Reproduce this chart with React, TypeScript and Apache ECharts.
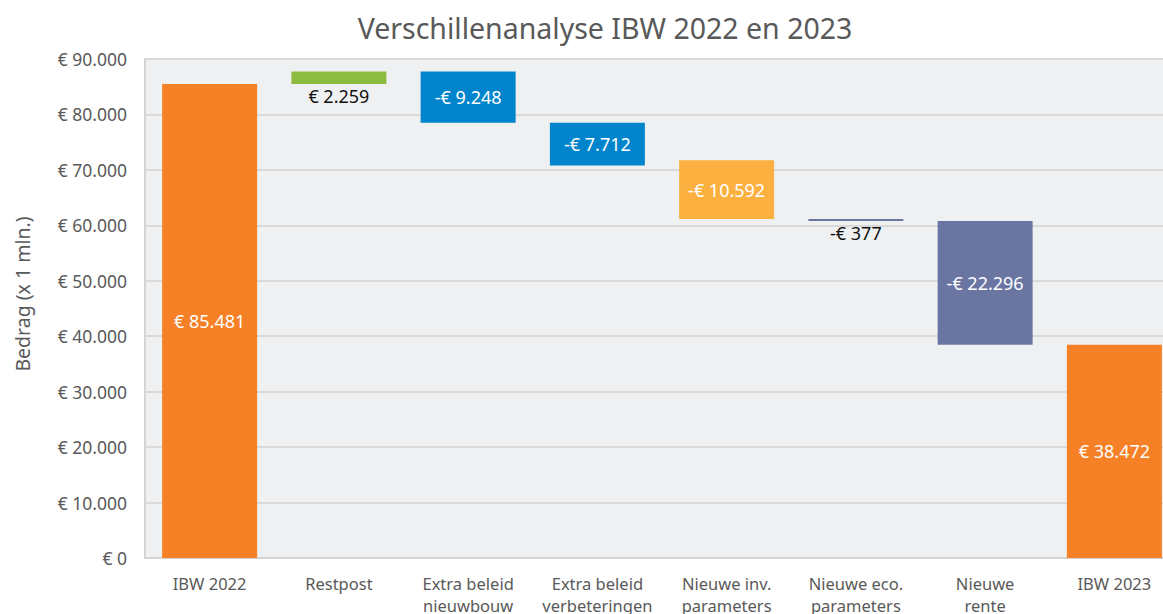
import React, { useEffect, useRef } from "react";
import * as echarts from "echarts";

const categories = [
  "IBW 2022",
  "Restpost",
  "Extra beleid\nnieuwbouw",
  "Extra beleid\nverbeteringen",
  "Nieuwe inv.\nparameters",
  "Nieuwe eco.\nparameters",
  "Nieuwe\nrente",
  "IBW 2023",
];
// signed amounts shown in the labels
const changes = [85481, 2259, -9248, -7712, -10592, -377, -22296, 38472];
// top of each floating bar as drawn in the chart
const barTops = [85481, 87740, 87740, 78492, 71737, 61145, 60768, 38472];
const barColors = ["#F58025", "#8CBB3F", "#0084CC", "#0084CC", "#FBB040", "#6A75A2", "#6A75A2", "#F58025"];
const labelOutside = [false, true, false, false, false, true, false, false];
const yTicks = [0, 10000, 20000, 30000, 40000, 50000, 60000, 70000, 80000, 90000];

const FONT = "'Noto Sans', 'Open Sans', sans-serif";

function fmt(v: number): string {
  const abs = Math.abs(v);
  const s = abs.toString().replace(/\B(?=(\d{3})+(?!\d))/g, ".");
  return (v < 0 ? "-" : "") + "€ " + s;
}

export default function App() {
  const ref = useRef<HTMLDivElement>(null);
  useEffect(() => {
    document.body.style.margin = "0";
    const chart = echarts.init(ref.current!, null, { renderer: "svg" });
    const heights = changes.map((c) => Math.abs(c));
    const bases = barTops.map((t, i) => t - heights[i]);
    chart.setOption({
      animation: false,
      backgroundColor: "#ffffff",
      title: {
        text: "Verschillenanalyse IBW 2022 en 2023",
        left: 600,
        textAlign: "center",
        top: 8,
        textStyle: { fontFamily: FONT, fontSize: 28.5, fontWeight: "normal", color: "#595959" },
      },
      graphic: [
        {
          type: "text",
          x: 22,
          y: 294,
          rotation: Math.PI / 2,
          style: {
            text: "Bedrag (x 1 mln.)",
            fontFamily: FONT,
            fontSize: 19.5,
            fill: "#595959",
            align: "center",
            verticalAlign: "middle",
          },
        },
      ],
      grid: {
        left: 145,
        top: 59,
        width: 1034,
        height: 499,
        show: true,
        backgroundColor: "#EFF0F2",
        borderWidth: 0,
        containLabel: false,
        outerBoundsMode: "none",
      },
      xAxis: {
        type: "category",
        data: categories,
        axisLine: { show: true, lineStyle: { color: "#D4D4D4", width: 2 } },
        axisTick: { show: false },
        axisLabel: {
          fontFamily: FONT,
          fontSize: 16.5,
          color: "#595959",
          margin: 14,
          lineHeight: 22,
          interval: 0,
        },
      },
      yAxis: {
        type: "value",
        min: yTicks[0],
        max: yTicks[yTicks.length - 1],
        interval: 10000,
        axisLine: { show: true, lineStyle: { color: "#D4D4D4", width: 2 } },
        axisTick: { show: false },
        splitLine: { lineStyle: { color: "#D9D9D9", width: 2 } },
        axisLabel: {
          fontFamily: FONT,
          fontSize: 17.5,
          color: "#595959",
          margin: 18,
          formatter: (v: number) => fmt(v),
        },
      },
      series: [
        {
          type: "bar",
          stack: "w",
          data: bases,
          itemStyle: { color: "transparent" },
          barWidth: 95,
          silent: true,
        },
        {
          type: "bar",
          stack: "w",
          barWidth: 95,
          data: heights.map((h, i) => ({
            value: h,
            itemStyle: { color: barColors[i] },
            label: labelOutside[i]
              ? { show: true, position: "bottom", color: "#111111", distance: 3 }
              : { show: true, position: "inside", color: "#ffffff" },
          })),
          label: {
            fontFamily: FONT,
            fontSize: 18,
            formatter: (p: any) => fmt(changes[p.dataIndex]),
          },
        },
      ],
    });
    return () => chart.dispose();
  }, []);
  return (
    <div style={{ width: 1163, height: 614, overflow: "hidden" }}>
      <div ref={ref} style={{ width: 1180, height: 614 }} />
    </div>
  );
}
